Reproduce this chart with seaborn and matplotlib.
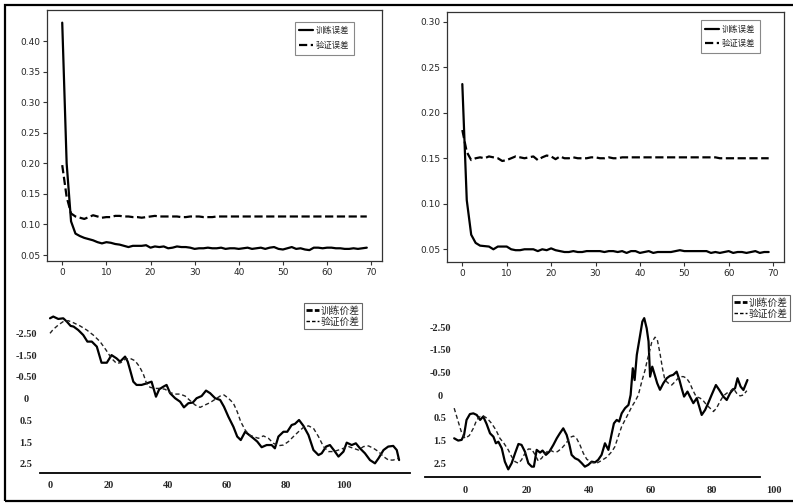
import matplotlib
matplotlib.use('Agg')
import matplotlib.pyplot as plt
import seaborn as sns
import numpy as np
from matplotlib.lines import Line2D
from matplotlib.patches import Rectangle

# ---------------- data ----------------
epochs = list(range(70))

tl_train = [0.430, 0.200, 0.105, 0.085, 0.081, 0.078, 0.076, 0.074, 0.071, 0.069,
            0.071, 0.070, 0.068, 0.067, 0.065, 0.063, 0.065, 0.065, 0.065, 0.066,
            0.062, 0.064, 0.063, 0.064, 0.061, 0.062, 0.064, 0.063, 0.063, 0.062,
            0.060, 0.061, 0.061, 0.062, 0.061, 0.061, 0.062, 0.060, 0.061, 0.061,
            0.060, 0.061, 0.062, 0.060, 0.061, 0.062, 0.060, 0.062, 0.063, 0.060,
            0.059, 0.061, 0.063, 0.060, 0.061, 0.059, 0.058, 0.062, 0.062, 0.061,
            0.062, 0.062, 0.061, 0.061, 0.060, 0.060, 0.061, 0.060, 0.061, 0.062]
tl_val = [0.197, 0.145, 0.118, 0.113, 0.111, 0.109, 0.112, 0.115, 0.113, 0.111,
          0.112, 0.112, 0.114, 0.114, 0.113, 0.113, 0.112, 0.112, 0.111, 0.112,
          0.113, 0.114, 0.113, 0.113, 0.113, 0.113, 0.113, 0.112, 0.112, 0.113,
          0.113, 0.113, 0.112, 0.112, 0.112, 0.113, 0.113, 0.113, 0.113, 0.113,
          0.113, 0.113, 0.113, 0.113, 0.113, 0.113, 0.113, 0.113, 0.113, 0.113,
          0.113, 0.113, 0.113, 0.113, 0.113, 0.113, 0.113, 0.113, 0.113, 0.113,
          0.113, 0.113, 0.113, 0.113, 0.113, 0.113, 0.113, 0.113, 0.113, 0.113]

tr_train = [0.2315, 0.104, 0.066, 0.057, 0.054, 0.0535, 0.053, 0.050, 0.053, 0.053,
            0.053, 0.050, 0.049, 0.049, 0.050, 0.050, 0.050, 0.048, 0.050, 0.049,
            0.051, 0.049, 0.048, 0.047, 0.047, 0.048, 0.047, 0.047, 0.048, 0.048,
            0.048, 0.048, 0.047, 0.048, 0.048, 0.047, 0.048, 0.046, 0.048, 0.048,
            0.046, 0.047, 0.048, 0.046, 0.047, 0.047, 0.047, 0.047, 0.048, 0.049,
            0.048, 0.048, 0.048, 0.048, 0.048, 0.048, 0.046, 0.047, 0.046, 0.047,
            0.048, 0.046, 0.047, 0.047, 0.046, 0.047, 0.048, 0.046, 0.047, 0.047]
tr_val = [0.181, 0.157, 0.148, 0.150, 0.151, 0.150, 0.152, 0.151, 0.150, 0.147,
          0.148, 0.150, 0.152, 0.151, 0.150, 0.151, 0.152, 0.148, 0.151, 0.153,
          0.152, 0.149, 0.152, 0.150, 0.150, 0.151, 0.150, 0.150, 0.150, 0.151,
          0.151, 0.150, 0.150, 0.151, 0.150, 0.150, 0.151, 0.151, 0.151, 0.151,
          0.151, 0.151, 0.151, 0.151, 0.151, 0.151, 0.151, 0.151, 0.151, 0.151,
          0.151, 0.151, 0.151, 0.151, 0.151, 0.151, 0.151, 0.151, 0.150, 0.150,
          0.150, 0.150, 0.150, 0.150, 0.150, 0.150, 0.150, 0.150, 0.150, 0.150]

# bottom panels: y values are positions on the label scale (0 = "2.5" ... 6 = "-2.50")
spread_labels = ['2.5', '1.5', '0.5', '0', '-0.50', '-1.50', '-2.50']

bl_train_x = [0, 1.1, 2.8, 4.5, 5.7, 7, 8, 9.6, 11.3, 12.7, 14.2, 15.9, 17.5, 19.3, 20.9,
              22.6, 23.8, 25.5, 26.4, 27.2, 28.3, 29.4, 31.1, 32.8, 34.5, 36, 37.1, 38.5,
              39.6, 40.8, 42.5, 44.2, 45.5, 47, 48.5, 49.8, 51.5, 53, 54.4, 56.1, 57.8,
              59.1, 60.6, 62.3, 63.6, 64.8, 66.3, 67.7, 69.1, 70.4, 71.9, 73.6, 75.3,
              76.4, 77.6, 79.3, 80.6, 82.1, 83.2, 84.6, 86.1, 87.8, 89.5, 91.2, 92.3,
              93.8, 95.1, 96.8, 98, 99.7, 100.8, 102.5, 103.9, 105.3, 107, 108.7, 110.4,
              111.6, 113.3, 114.9, 116.6, 117.8, 118.6]
bl_train_y = [6.69, 6.77, 6.66, 6.69, 6.54, 6.34, 6.31, 6.15, 5.92, 5.62, 5.62, 5.39, 4.65,
              4.65, 5.0, 4.85, 4.70, 4.93, 4.70, 4.32, 3.78, 3.63, 3.63, 3.70, 3.78, 3.09,
              3.43, 3.55, 3.63, 3.25, 3.02, 2.86, 2.60, 2.79, 2.82, 3.02, 3.12, 3.37, 3.25,
              3.02, 2.94, 2.63, 2.17, 1.71, 1.26, 1.10, 1.48, 1.33, 1.18, 1.03, 0.77, 0.87,
              0.87, 0.72, 1.26, 1.48, 1.48, 1.79, 1.84, 2.02, 1.75, 1.33, 0.64, 0.41, 0.49,
              0.80, 0.87, 0.57, 0.34, 0.57, 0.98, 0.87, 0.95, 0.72, 0.49, 0.18, 0.03, 0.26,
              0.64, 0.80, 0.83, 0.64, 0.18]
bl_val_x = [0, 1.1, 2.8, 4.5, 6.2, 7.9, 10.2, 12.5, 14.7, 17, 19, 20.9, 22.6, 24, 25.5,
            27.2, 28.9, 30.4, 31.7, 32.8, 34, 35.7, 37.4, 39.1, 40.8, 42.5, 44.2, 45.9,
            47.6, 49.3, 51, 52.7, 54.4, 56.1, 57.8, 59.1, 60.6, 62.3, 63.6, 64.8, 66.3,
            67.7, 69.1, 70.8, 72.5, 74.2, 75.9, 77.6, 79.3, 81, 82.7, 84.4, 86.1, 87.8,
            89.5, 91.2, 92.9, 94.6, 96.3, 98, 99.7, 101.4, 103.1, 104.8, 106.5, 108.2,
            109.9, 111.6, 113.3, 115, 116.6, 118.3]
bl_val_y = [6.0, 6.18, 6.38, 6.54, 6.58, 6.49, 6.34, 6.15, 5.92, 5.62, 5.24, 4.85, 4.62,
            4.65, 4.81, 4.85, 4.74, 4.47, 4.13, 3.70, 3.52, 3.47, 3.47, 3.43, 3.28, 3.21,
            3.21, 3.12, 2.91, 2.71, 2.60, 2.71, 2.82, 2.97, 3.12, 3.17, 3.02, 2.79, 2.40,
            1.94, 1.56, 1.33, 1.26, 1.18, 1.29, 1.18, 0.95, 0.84, 0.87, 1.03, 1.26, 1.48,
            1.68, 1.75, 1.64, 1.26, 0.80, 0.57, 0.57, 0.64, 0.72, 0.80, 0.72, 0.64, 0.80,
            0.83, 0.72, 0.57, 0.34, 0.18, 0.18, 0.26]

br_train_x = [-3.5, -2.2, -1.1, -0.3, 0.5, 1.6, 2.7, 3.8, 4.9, 5.9, 7.0, 8.1, 9.2, 10.0,
              10.8, 11.9, 12.9, 14.0, 15.1, 16.2, 17.3, 18.3, 19.4, 20.5, 21.6, 22.3, 23.2,
              24.3, 25.1, 26.2, 27.3, 28.6, 29.7, 30.7, 31.8, 32.9, 33.8, 34.5, 35.6, 36.7,
              37.8, 38.8, 39.9, 41.0, 42.1, 43.1, 44.2, 45.3, 46.4, 47.5, 48.2, 49.1, 49.9,
              50.7, 51.8, 52.9, 53.6, 54.3, 54.9, 55.6, 56.6, 57.4, 58.0, 58.8, 59.4, 59.9,
              60.6, 61.4, 62.2, 63.1, 64.2, 65.3, 66.3, 67.4, 68.5, 69.4, 70.1, 70.9, 72.0,
              72.8, 73.9, 75.0, 75.8, 76.6, 77.7, 78.7, 79.8, 81.2, 82.3, 83.6, 84.7, 85.8,
              86.6, 87.4, 88.2, 89.2, 90.1, 91.4]
br_train_y = [1.10, 1.00, 1.03, 1.25, 1.91, 2.17, 2.20, 2.13, 1.91, 2.06, 1.73, 1.32, 1.17,
              0.88, 0.95, 0.66, 0.07, -0.27, 0.0, 0.44, 0.85, 0.81, 0.51, 0.0, -0.15, -0.15,
              0.59, 0.47, 0.56, 0.37, 0.51, 0.81, 1.10, 1.32, 1.54, 1.25, 0.81, 0.37, 0.22,
              0.15, 0.0, -0.15, -0.07, 0.07, 0.04, 0.15, 0.37, 0.88, 0.59, 1.32, 1.76, 1.91,
              1.84, 2.20, 2.43, 2.57, 3.01, 4.19, 3.67, 4.78, 5.59, 6.25, 6.40, 5.95, 5.37,
              3.82, 4.26, 3.90, 3.53, 3.24, 3.53, 3.75, 3.85, 3.90, 4.04, 3.67, 3.31, 2.94,
              3.16, 2.94, 2.65, 2.87, 2.50, 2.13, 2.35, 2.65, 3.01, 3.45, 3.23, 2.94, 2.79,
              3.09, 3.23, 3.31, 3.75, 3.38, 3.23, 3.67]
br_val_x = [-3.5, -2.2, -1.1, 0, 1.4, 2.7, 3.8, 4.9, 5.9, 7.2, 8.6, 10.0, 11.3, 12.6, 14.0,
            15.1, 16.2, 17.3, 18.3, 19.4, 20.5, 21.6, 22.7, 23.7, 24.8, 25.9, 27.3, 28.6,
            29.9, 31.3, 32.7, 34.0, 35.1, 36.1, 37.2, 38.3, 39.4, 41.0, 42.6, 44.2, 45.8,
            47.5, 48.5, 49.6, 50.7, 51.8, 52.9, 54.0, 55.0, 56.1, 57.2, 58.3, 59.0, 59.7,
            60.4, 61.5, 62.2, 63.1, 63.9, 64.7, 65.8, 66.9, 68.0, 69.4, 70.7, 71.7, 72.8,
            73.7, 74.8, 76.1, 77.1, 78.2, 79.3, 80.4, 81.4, 82.5, 83.6, 84.7, 85.8, 86.8,
            87.9, 89.0, 90.1, 91.2]
br_val_y = [2.43, 1.84, 1.35, 1.10, 1.22, 1.54, 1.91, 2.06, 2.09, 1.98, 1.76, 1.47, 1.10,
            0.88, 0.59, 0.29, 0.07, 0.0, 0.15, 0.44, 0.63, 0.62, 0.37, 0.10, 0.22, 0.44,
            0.59, 0.51, 0.51, 0.66, 0.88, 1.14, 1.20, 1.10, 0.81, 0.44, 0.18, 0.03, 0.0,
            0.12, 0.26, 0.51, 0.73, 1.18, 1.62, 1.91, 2.20, 2.50, 2.72, 3.01, 3.60, 4.12,
            4.56, 4.92, 5.32, 5.56, 5.47, 4.85, 4.19, 3.67, 3.53, 3.45, 3.60, 3.82, 3.82,
            3.75, 3.53, 3.23, 2.94, 2.87, 2.76, 2.57, 2.43, 2.28, 2.43, 2.72, 2.97, 3.09,
            3.16, 3.31, 3.09, 2.97, 3.01, 3.20]

err_labels = ['训练误差', '验证误差']
spread_names = ['训练价差', '验证价差']

# ---------------- style ----------------
sns.set_theme(style='ticks')
plt.rcParams['font.family'] = ['DejaVu Sans', 'Noto Sans CJK SC']
plt.rcParams['axes.unicode_minus'] = False

W, H = 793, 504
fig = plt.figure(figsize=(W / 100, H / 100), dpi=100)
fig.patch.set_facecolor('white')


def frac(l, t, r, b):
    return [l / W, 1 - b / H, (r - l) / W, (b - t) / H]


cjk = {'family': ['Noto Sans CJK SC', 'DejaVu Sans']}


def top_panel(rect, train, val, ylim, yticks, leg_anchor):
    ax = fig.add_axes(rect)
    sns.lineplot(x=epochs, y=train, ax=ax, color='black', lw=1.6, label=err_labels[0])
    sns.lineplot(x=epochs, y=val, ax=ax, color='black', lw=1.6, linestyle='--',
                 label=err_labels[1])
    ax.set_xlim(-3.45, 72.45)
    ax.set_ylim(*ylim)
    ax.set_xticks(range(0, 71, 10))
    ax.set_yticks(yticks)
    ax.set_yticklabels([f'{v:.2f}' for v in yticks])
    ax.tick_params(labelsize=6.5, length=3, width=0.8, color='#333', pad=2)
    for s in ax.spines.values():
        s.set_color('#333')
        s.set_linewidth(0.9)
    leg = ax.legend(loc='upper right', bbox_to_anchor=leg_anchor,
                    bbox_transform=fig.transFigure, borderaxespad=0,
                    prop={**cjk, 'size': 6}, handlelength=1.6, handletextpad=0.4,
                    borderpad=0.55, labelspacing=0.7, fancybox=False,
                    edgecolor='#888', framealpha=1)
    leg.get_frame().set_linewidth(0.8)
    return ax


top_panel(frac(47, 10, 382, 261), tl_train, tl_val, (0.0402, 0.4507),
          [0.05, 0.10, 0.15, 0.20, 0.25, 0.30, 0.35, 0.40], (354 / W, 1 - 21.7 / H))
top_panel(frac(447, 11.7, 784, 262.3), tr_train, tr_val, (0.0357, 0.311),
          [0.05, 0.10, 0.15, 0.20, 0.25, 0.30], (760 / W, 1 - 20 / H))


def bottom_panel(rect, tx, ty, vx, vy, xlim, ylim, spine_bounds, ypad, leg_anchor):
    ax = fig.add_axes(rect)
    ax.patch.set_alpha(0)
    sns.lineplot(x=tx, y=ty, ax=ax, color='black', lw=1.6, sort=False)
    sns.lineplot(x=vx, y=vy, ax=ax, color='#222', lw=1.0, linestyle=(0, (3, 2)), sort=False)
    ax.set_xlim(*xlim)
    ax.set_ylim(*ylim)
    for k in ('left', 'top', 'right'):
        ax.spines[k].set_visible(False)
    ax.spines['bottom'].set_color('black')
    ax.spines['bottom'].set_linewidth(1.3)
    ax.spines['bottom'].set_bounds(*spine_bounds)
    ax.set_xticks(range(0, 101, 20))
    ax.set_xticklabels([str(v) for v in range(0, 101, 20)], fontfamily='Liberation Serif',
                       fontsize=7.5, fontweight='bold')
    ax.set_yticks(range(len(spread_labels)))
    ax.set_yticklabels(spread_labels, fontfamily='Liberation Serif', fontsize=7.5,
                       fontweight='bold', ha='center')
    ax.tick_params(axis='x', length=0, pad=6)
    ax.tick_params(axis='y', length=0, pad=ypad)
    handles = [Line2D([], [], color='black', lw=2.0, linestyle=(0, (2.2, 0.8))),
               Line2D([], [], color='black', lw=1.0, linestyle=(0, (2.5, 1.5)))]
    leg = ax.legend(handles, spread_names, loc='upper right', bbox_to_anchor=leg_anchor,
                    bbox_transform=fig.transFigure, borderaxespad=0,
                    prop={**cjk, 'size': 7}, handlelength=1.3, handletextpad=0.2,
                    borderpad=0.25, labelspacing=0.15, fancybox=False,
                    edgecolor='#666', framealpha=1)
    leg.get_frame().set_linewidth(0.8)
    return ax


bottom_panel(frac(40, 300, 410, 472.7), bl_train_x, bl_train_y, bl_val_x, bl_val_y,
             (-3.4, 122.3), (-0.4, 7.53), (-3.4, 122.3), 10.0,
             (362 / W, 1 - 303 / H))
bottom_panel(frac(425, 300, 780, 477.3), br_train_x, br_train_y, br_val_x, br_val_y,
             (-12.94, 101.94), (-0.62, 7.2), (-12.94, 95.5), -10.8,
             (790 / W, 1 - 295 / H))

# outer frame of the composite figure
fig.add_artist(Rectangle((5 / W, 1 - 501 / H), (820 - 5) / W, (501 - 5) / H,
                         transform=fig.transFigure, fill=False, lw=1.6,
                         edgecolor='black'))

fig.savefig('out.png', dpi=100)
